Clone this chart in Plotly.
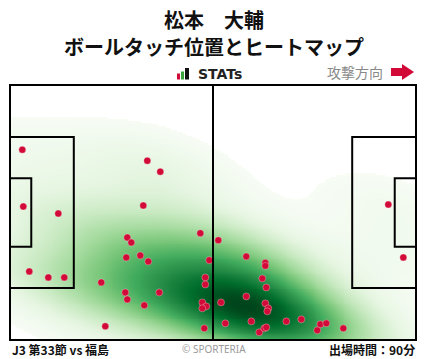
import numpy as np
import plotly.graph_objects as go
import plotly.colors as pc

# ---- data (pitch coordinates in metres, 105 x 68, y measured from bottom touchline) ----
touch_x = [3.18, 35.51, 38.87, 3.44, 34.47, 12.49, 97.84, 101.72, 4.99, 9.91, 14.04,
           49.22, 53.87, 51.54, 61.11, 66.03, 66.03, 50.51, 50.51, 65.25, 66.28, 61.11,
           49.73, 50.77, 49.73, 54.57, 66.03, 66.80, 66.54, 71.46, 55.68, 62.41, 50.25,
           64.47, 65.77, 66.28, 30.34, 31.37, 30.08, 33.70, 35.77, 23.61, 29.82, 38.61,
           30.34, 34.73, 24.65, 75.34, 80.25, 81.80, 79.47, 86.20]
touch_y = [50.75, 47.83, 44.90, 35.58, 35.85, 33.72, 36.12, 22.01, 18.28, 16.69, 16.69,
           28.48, 26.61, 21.29, 22.28, 20.57, 19.77, 16.69, 14.82, 16.42, 14.03, 11.63,
           10.03, 8.97, 8.44, 10.03, 9.77, 8.44, 7.64, 4.98, 4.44, 4.98, 3.11,
           2.05, 3.11, 3.38, 27.33, 26.00, 22.01, 22.54, 20.95, 15.36, 12.69, 12.69,
           10.83, 9.24, 3.65, 5.51, 4.18, 4.44, 2.58, 3.11]

title_lines = ["松本　大輔", "ボールタッチ位置とヒートマップ"]
footer_left = "J3 第33節 vs 福島"
footer_right = "出場時間：90分"
credit = "© SPORTERIA"
direction_label = "攻撃方向"

PITCH_L, PITCH_W = 105.0, 68.0

# ---- kernel density estimate (Scott's rule, full covariance, widened) ----
pts = np.column_stack([touch_x, touch_y])
n = len(pts)
bw = (n ** (-1.0 / 6.0)) * 1.22
cov = np.cov(pts.T) * bw ** 2
inv = np.linalg.inv(cov)
gx = np.linspace(0, PITCH_L, 211)
gy = np.linspace(0, PITCH_W, 137)
GX, GY = np.meshgrid(gx, gy)
dens = np.zeros_like(GX)
for px_, py_ in pts:
    dx = GX - px_
    dy = GY - py_
    q = inv[0, 0] * dx * dx + 2 * inv[0, 1] * dx * dy + inv[1, 1] * dy * dy
    dens += np.exp(-0.5 * q)
dens /= dens.max()
thresh = 0.03
z = np.where(dens >= thresh, dens, np.nan)

greens = pc.sequential.Greens
cscale = [[i / (len(greens) - 1), c] for i, c in enumerate(greens)]

fig = go.Figure()
fig.add_trace(go.Heatmap(x=gx, y=gy, z=z, colorscale=cscale, zmin=thresh, zmax=1.0,
                         zsmooth="best", showscale=False, hoverinfo="skip"))
fig.add_trace(go.Scatter(x=touch_x, y=touch_y, mode="markers",
                         marker=dict(size=7, color="#d20a37",
                                     line=dict(width=0.6, color="rgba(255,255,255,0.5)")),
                         hoverinfo="skip", showlegend=False))

# ---- layout geometry (window pixels) ----
W, H = 428, 359
L, R, T, B = 10, 416, 85, 340  # pitch box


def fx(x):
    return (x - L) / (R - L)


def fy(y):
    return (B - y) / (B - T)


line = dict(color="black", width=2)
shapes = []
shapes.append(dict(type="line", xref="x", yref="y", x0=PITCH_L / 2, x1=PITCH_L / 2,
                   y0=-1, y1=PITCH_W + 1, line=line))
pa_half, ga_half = 20.16, 9.16
for side in (0, 1):
    if side == 0:
        xa0, xa1, xg0, xg1 = -2, 16.5, -2, 5.5
    else:
        xa0, xa1, xg0, xg1 = PITCH_L - 16.5, PITCH_L + 2, PITCH_L - 5.5, PITCH_L + 2
    shapes.append(dict(type="rect", xref="x", yref="y", x0=xa0, x1=xa1,
                       y0=PITCH_W / 2 - pa_half, y1=PITCH_W / 2 + pa_half, line=line))
    shapes.append(dict(type="rect", xref="x", yref="y", x0=xg0, x1=xg1,
                       y0=PITCH_W / 2 - ga_half, y1=PITCH_W / 2 + ga_half, line=line))
shapes.append(dict(type="rect", xref="paper", yref="paper", x0=0, x1=1, y0=0, y1=1, line=line))

for (x0, x1, y0, c) in [(177, 180, 73.5, "#d20a37"), (181, 184, 71.5, "#3aa53a"),
                        (185, 189, 68, "#111111")]:
    shapes.append(dict(type="rect", xref="paper", yref="paper", x0=fx(x0), x1=fx(x1),
                       y0=fy(79.5), y1=fy(y0), line=dict(width=0), fillcolor=c))
ax = [391, 402, 402, 414, 402, 402, 391]
ay = [68, 68, 64, 72, 80, 76, 76]
path = "M " + " L ".join(f"{fx(a)},{fy(b)}" for a, b in zip(ax, ay)) + " Z"
shapes.append(dict(type="path", xref="paper", yref="paper", path=path,
                   line=dict(width=0), fillcolor="#d20a37"))

cjk = "Noto Sans CJK JP"
ann = []
ann.append(dict(text=title_lines[0], x=fx(214), y=fy(19.5), xref="paper", yref="paper",
                showarrow=False, xanchor="center", yanchor="middle",
                font=dict(family=cjk, size=20, color="#111111", weight="bold")))
ann.append(dict(text=title_lines[1], x=fx(214), y=fy(46.5), xref="paper", yref="paper",
                showarrow=False, xanchor="center", yanchor="middle",
                font=dict(family=cjk, size=20, color="#111111", weight="bold")))
ann.append(dict(text="STATs", x=fx(196), y=fy(74), xref="paper", yref="paper",
                showarrow=False, xanchor="left", yanchor="middle",
                font=dict(family="DejaVu Sans", size=14, color="#222222", weight="bold")))
ann.append(dict(text=direction_label, x=fx(385), y=fy(72), xref="paper", yref="paper",
                showarrow=False, xanchor="right", yanchor="middle",
                font=dict(family=cjk, size=14, color="#888888")))
ann.append(dict(text=footer_left, x=fx(10), y=fy(349), xref="paper", yref="paper",
                showarrow=False, xanchor="left", yanchor="middle",
                font=dict(family=cjk, size=12, color="#111111", weight="bold")))
ann.append(dict(text=credit, x=fx(214), y=fy(349), xref="paper", yref="paper",
                showarrow=False, xanchor="center", yanchor="middle",
                font=dict(family="Noto Sans", size=10, color="#9a9a9a")))
ann.append(dict(text=footer_right, x=fx(417), y=fy(349), xref="paper", yref="paper",
                showarrow=False, xanchor="right", yanchor="middle",
                font=dict(family=cjk, size=12, color="#111111", weight="bold")))

fig.update_layout(
    width=W, height=H,
    margin=dict(l=L, r=W - R, t=T, b=H - B, pad=0),
    paper_bgcolor="white", plot_bgcolor="white",
    xaxis=dict(range=[0, PITCH_L], visible=False, fixedrange=True),
    yaxis=dict(range=[0, PITCH_W], visible=False, fixedrange=True),
    shapes=shapes, annotations=ann, showlegend=False,
)
fig.write_html("out.html", config={"displayModeBar": False},
               post_script="document.body.style.margin='0';document.body.style.overflow='hidden';")
